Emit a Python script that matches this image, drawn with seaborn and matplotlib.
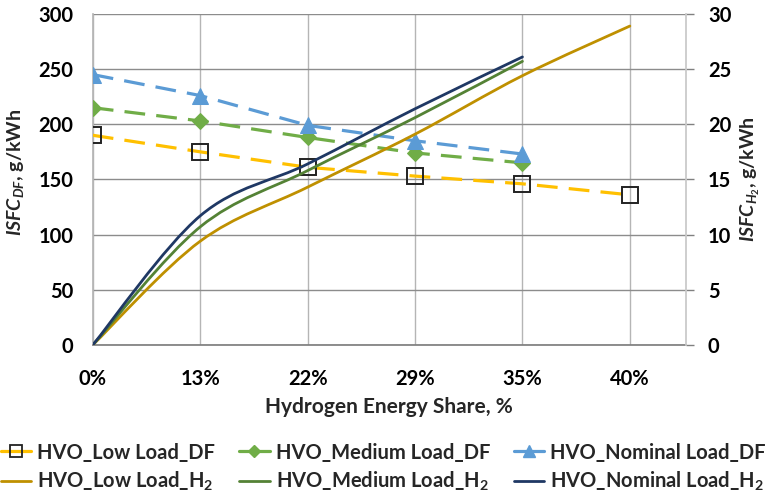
import numpy as np
import pandas as pd
import matplotlib
matplotlib.use("Agg")
import matplotlib.pyplot as plt
import seaborn as sns
from matplotlib.path import Path
from matplotlib.patches import PathPatch
from matplotlib.lines import Line2D

# ---- data ----
categories = ["0%", "13%", "22%", "29%", "35%", "40%"]
low_df = [190, 175, 161, 153, 146, 136]
medium_df = [215, 203, 188, 174, 165]
nominal_df = [245, 226, 199, 185, 173]
low_h2 = [0, 9.4, 14.3, 19.1, 24.4, 28.9]
medium_h2 = [0, 10.7, 15.8, 20.6, 25.7]
nominal_h2 = [0, 11.7, 16.4, 21.4, 26.1]

sns.set_theme(style="white")
plt.rcParams["font.family"] = ["Lato", "DejaVu Sans"]
plt.rcParams["font.weight"] = "bold"
plt.rcParams["mathtext.fontset"] = "custom"
plt.rcParams["mathtext.rm"] = "Lato:bold"
plt.rcParams["mathtext.it"] = "Lato:bold:italic"
plt.rcParams["mathtext.bf"] = "Lato:bold"

fig = plt.figure(figsize=(7.67, 4.97), dpi=100)
ax = fig.add_axes([0.121, 0.306, 0.773, 0.666])
ax2 = ax.twinx()

C_LOW_DF, C_MED_DF, C_NOM_DF = "#FFC000", "#70AD47", "#5B9BD5"
C_LOW_H2, C_MED_H2, C_NOM_H2 = "#BF9000", "#548235", "#1F3864"

dash = (0, (6.5, 3.5))

def df_series(vals):
    return pd.DataFrame({"x": np.arange(len(vals)), "y": vals})

sns.lineplot(data=df_series(low_df), x="x", y="y", ax=ax, color=C_LOW_DF, lw=2.3,
             linestyle=dash, marker="s", markersize=11, markerfacecolor="none",
             markeredgecolor="#222222", markeredgewidth=1.4, zorder=3)
sns.lineplot(data=df_series(medium_df), x="x", y="y", ax=ax, color=C_MED_DF, lw=2.3,
             linestyle=dash, marker="D", markersize=8, markerfacecolor=C_MED_DF,
             markeredgecolor=C_MED_DF, zorder=3)
sns.lineplot(data=df_series(nominal_df), x="x", y="y", ax=ax, color=C_NOM_DF, lw=2.3,
             linestyle=dash, marker="^", markersize=11, markerfacecolor=C_NOM_DF,
             markeredgecolor=C_NOM_DF, zorder=3)

def smooth_path(vals):
    pts = np.column_stack([np.arange(len(vals), dtype=float), np.asarray(vals, float)])
    n = len(pts)
    verts = [pts[0]]
    codes = [Path.MOVETO]
    for i in range(n - 1):
        p_prev = pts[i - 1] if i > 0 else pts[i]
        p0, p1 = pts[i], pts[i + 1]
        p_next = pts[i + 2] if i + 2 < n else pts[i + 1]
        c1 = p0 + (p1 - p_prev) / 6.0
        c2 = p1 - (p_next - p0) / 6.0
        verts += [c1, c2, p1]
        codes += [Path.CURVE4] * 3
    return Path(verts, codes)

for vals, col in [(low_h2, C_LOW_H2), (medium_h2, C_MED_H2), (nominal_h2, C_NOM_H2)]:
    ax2.add_patch(PathPatch(smooth_path(vals), facecolor="none", edgecolor=col, lw=2.0,
                            capstyle="round", joinstyle="round"))

ax.set_xlim(0, 5.52)
ax.set_ylim(0, 300)
ax2.set_ylim(0, 30)
ax.set_yticks(np.arange(0, 301, 50))
ax2.set_yticks(np.arange(0, 31, 5))
ax.set_xticks(np.arange(len(categories)))
ax.set_xticklabels(categories)

ax.yaxis.grid(True, color="#8c8c8c", lw=1.0)
ax.xaxis.grid(True, color="#b5b5b5", lw=1.0)
ax.set_axisbelow(True)
ax2.grid(False)

for a in (ax, ax2):
    for s in a.spines.values():
        s.set_visible(False)
ax.spines["bottom"].set_visible(True)
ax.spines["bottom"].set_color("#808080")
ax.spines["left"].set_visible(True)
ax.spines["left"].set_color("#b5b5b5")
ax2.spines["right"].set_visible(True)
ax2.spines["right"].set_color("#c8c8c8")

FS = 14.5
ax.tick_params(axis="x", labelsize=FS, length=0, pad=17, colors="black")
ax.tick_params(axis="y", labelsize=FS, length=0, pad=14, colors="black")
ax2.tick_params(axis="y", labelsize=FS, length=6, width=1, color="#808080", pad=10,
                labelcolor="black", direction="out")
for lab in ax.get_xticklabels() + ax.get_yticklabels() + ax2.get_yticklabels():
    lab.set_fontweight("bold")

ax.set_xlabel("Hydrogen Energy Share, %", fontsize=15, fontweight="bold", labelpad=6)
ax.set_ylabel(r"$\mathit{ISFC}_{\mathit{DF}}$, g/kWh", fontsize=14, fontweight="bold")
ax2.set_ylabel(r"$\mathit{ISFC}_{\mathit{H_2}}$, g/kWh", fontsize=14, fontweight="bold")
ax.yaxis.set_label_coords(-0.112, 0.52)
ax2.yaxis.set_label_coords(1.09, 0.5)

h_low_df = Line2D([], [], color=C_LOW_DF, lw=2.3, marker="s", ms=9, mfc="none", mec="#222222", mew=1.3)
h_med_df = Line2D([], [], color=C_MED_DF, lw=2.3, marker="D", ms=6, mfc=C_MED_DF, mec=C_MED_DF)
h_nom_df = Line2D([], [], color=C_NOM_DF, lw=2.3, marker="^", ms=9, mfc=C_NOM_DF, mec=C_NOM_DF)
h_low_h2 = Line2D([], [], color=C_LOW_H2, lw=2.0)
h_med_h2 = Line2D([], [], color=C_MED_H2, lw=2.0)
h_nom_h2 = Line2D([], [], color=C_NOM_H2, lw=2.0)
handles = [h_low_df, h_low_h2, h_med_df, h_med_h2, h_nom_df, h_nom_h2]
labels = ["HVO_Low Load_DF", "HVO_Low Load_H$_2$",
          "HVO_Medium Load_DF", "HVO_Medium Load_H$_2$",
          "HVO_Nominal Load_DF", "HVO_Nominal Load_H$_2$"]
fig.legend(handles, labels, ncol=3, loc="lower center", bbox_to_anchor=(0.5, -0.016),
           frameon=False, prop={"size": 14.5, "weight": "bold"}, handlelength=1.5,
           handletextpad=0.3, columnspacing=1.2, labelspacing=0.35, borderaxespad=0.2)

fig.savefig("out.png", dpi=100)
